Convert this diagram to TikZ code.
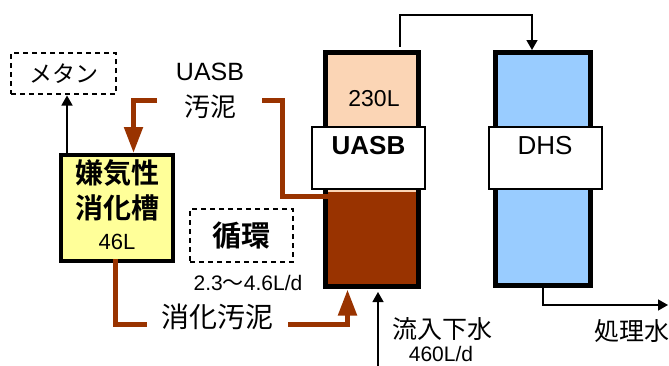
\documentclass[tikz,border=0pt]{standalone}
\usepackage{fontspec}
\setmainfont{Liberation Sans}
\newfontfamily\cjk{Noto Sans CJK JP}[BoldFont={Noto Sans CJK JP Bold}]
\usetikzlibrary{arrows.meta,calc}
\definecolor{peach}{RGB}{251,213,181}
\definecolor{sludge}{RGB}{153,51,0}
\definecolor{dhsblue}{RGB}{153,204,255}
\definecolor{digyellow}{RGB}{255,255,153}
\begin{document}
\begin{tikzpicture}[x=1pt,y=-1pt,
  column/.style={draw, line width=5pt, outer sep=0pt, inner sep=0pt},
  labelbox/.style={draw, fill=white, line width=1.5pt, outer sep=0pt, inner sep=0pt, minimum width=113pt, minimum height=62pt},
  dashbox/.style={draw, dash pattern=on 5pt off 4pt, line width=1.4pt, outer sep=0pt, inner sep=0pt},
  thinarrow/.style={line width=1.4pt, -{Triangle[length=10pt,width=11pt]}},
  sludgeline/.style={draw=sludge, line width=5pt},
  sludgearrow/.style={sludgeline, -{Triangle[length=26pt,width=18pt]}},
  txt/.style={inner sep=0pt, outer sep=0pt},
]
\useasboundingbox (0,0) rectangle (669,365);

% UASB column
\node[column, fill=peach, minimum width=93pt, minimum height=234pt] (uasbcol) at (372,169.5) {};
\fill[sludge] (325.5,192) rectangle (418.5,286.5);
\draw[line width=5pt] (uasbcol.north west) rectangle (uasbcol.south east);
\node[txt, font=\fontsize{23}{23}\selectfont] (vol) at (374,99) {230L};

% DHS column
\node[column, fill=dhsblue, minimum width=95pt, minimum height=233pt] (dhscol) at (543,169) {};

% label boxes
\node[labelbox] (uasbbox) at (368.5,158) {};
\node[txt, font=\bfseries\fontsize{26}{26}\selectfont] (uasbtxt) at (368.5,146) {UASB};
\node[labelbox] (dhsbox) at (545.5,158) {};
\node[txt, font=\fontsize{26}{26}\selectfont] (dhstxt) at (545,146) {DHS};

% UASB -> DHS
\coordinate (uout) at ($(uasbcol.north)+(28,-6)$);
\draw[thinarrow] (uout) -- ++(0,-31.5) -| ($(dhscol.north)+(-11,-2.5)$);

% treated water
\coordinate (treated) at (668,305);
\draw[thinarrow] (dhscol.south) |- (treated);
\node[txt, font=\cjk\fontsize{25}{25}\selectfont] (treatedtxt) at (632,331) {処理水};

% inflow
\coordinate (inflow) at (378,366);
\draw[thinarrow] (inflow) -- ($(uasbcol.south)+(6,5.5)$);
\node[txt, font=\cjk\fontsize{25}{25}\selectfont] (inflowtxt) at (442,329) {流入下水};
\node[txt, font=\fontsize{21}{21}\selectfont] (inflowrate) at (441,354) {460L/d};

% digester
\node[draw, line width=4pt, fill=digyellow, outer sep=0pt, inner sep=0pt, minimum width=112pt, minimum height=106pt] (dig) at (117,208) {};
\node[txt, font=\cjk\bfseries\fontsize{28}{28}\selectfont] (dig1) at (117,173) {嫌気性};
\node[txt, font=\cjk\bfseries\fontsize{28}{28}\selectfont] (dig2) at (117,207.5) {消化槽};
\node[txt, font=\fontsize{22}{22}\selectfont] (dig3) at (117,241.5) {46L};

% methane
\node[dashbox, minimum width=105pt, minimum height=41pt, font=\cjk\fontsize{23}{23}\selectfont] (meth) at (63.5,73.5) {メタン};
\draw[thinarrow] ($(dig.north)+(-50,2)$) -- ($(meth.south)+(3.5,1.5)$);

% UASB sludge
\node[txt, font=\fontsize{25}{25}\selectfont] (sl1) at (210,72) {UASB};
\node[txt, font=\cjk\fontsize{26}{26}\selectfont] (sl2) at (210,107) {汚泥};
\coordinate (s1) at (157,100.5);
\coordinate (s2) at (262,100.5);
\draw[sludgearrow] (s1) -| ($(dig.north)+(16.5,-2)$);
\draw[sludgeline] ($(uasbcol.west)+(2,27)$) -| ($(s2)+(20.5,0)$) -- (s2);

% digested sludge
\coordinate (s3) at (147,324.5);
\coordinate (s4) at (288,324.5);
\draw[sludgeline] ($(dig.south)+(-1.5,-2)$) |- (s3);
\draw[sludgearrow] (s4) -| ($(uasbcol.south)+(-24.5,3)$);
\node[txt, font=\cjk\fontsize{28}{28}\selectfont] (dsl) at (217,317) {消化汚泥};

% recirculation
\node[dashbox, minimum width=103pt, minimum height=53pt, font=\cjk\bfseries\fontsize{29}{29}\selectfont] (junkan) at (241.5,235.5) {循環};
\node[txt, font=\fontsize{21}{21}\selectfont] (rate) at (248,283) {2.3{\cjk ～}4.6L/d};
\end{tikzpicture}
\end{document}
